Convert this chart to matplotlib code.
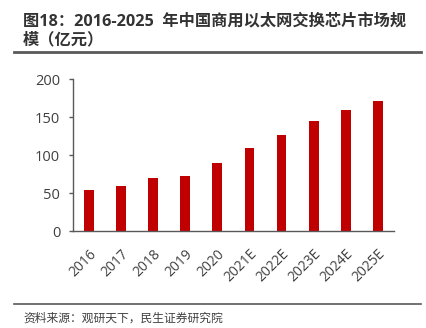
import numpy as np
import matplotlib.pyplot as plt
import matplotlib.transforms as mtransforms
from matplotlib.lines import Line2D

plt.rcParams['font.family'] = ['Open Sans', 'Noto Sans CJK SC', 'DejaVu Sans']

# data
years = ['2016', '2017', '2018', '2019', '2020',
         '2021E', '2022E', '2023E', '2024E', '2025E']
market = [54, 60, 70, 72, 90, 109, 127, 145, 159, 172]

title = '图18：2016-2025  年中国商用以太网交换芯片市场规\n模（亿元）'
source = '资料来源：观研天下，民生证券研究院'

gray = '#404040'

fig = plt.figure(figsize=(4.26, 3.28), dpi=100)
ax = fig.add_axes([0.1707, 0.2957, 0.925 - 0.1707, 0.758 - 0.2957])

x = np.arange(len(years))
ax.bar(x, market, width=0.3, color='#C00000')

ax.set_xlim(-0.5, len(years) - 0.5)
ax.set_ylim(0, 200)
ax.set_yticks([0, 50, 100, 150, 200])
ax.set_xticks(x)
ax.set_xticklabels(years, rotation=45, ha='right', rotation_mode='anchor')
# nudge the rotated labels a little to the left
shift = mtransforms.ScaledTranslation(-3 / 100, 0, fig.dpi_scale_trans)
for lab in ax.get_xticklabels():
    lab.set_transform(lab.get_transform() + shift)

for s in ['top', 'right']:
    ax.spines[s].set_visible(False)
for s in ['left', 'bottom']:
    ax.spines[s].set_color('#595959')
    ax.spines[s].set_linewidth(1.0)
ax.tick_params(axis='y', colors='#595959', labelcolor=gray, labelsize=10.5,
               length=3, width=1, pad=6)
ax.tick_params(axis='x', length=0, labelcolor=gray, labelsize=10, pad=11)

fig.text(23 / 426, 1 - 31 / 328, title, fontsize=11.7, fontweight='bold',
         color='#333333', va='center', ha='left', linespacing=1.3)
fig.add_artist(Line2D([14 / 426, 421 / 426], [1 - 52 / 328] * 2,
                      color='#595959', lw=2))
fig.add_artist(Line2D([14 / 426, 421 / 426], [1 - 304 / 328] * 2,
                      color='#595959', lw=1.2))
fig.text(23 / 426, 1 - 318 / 328, source, fontsize=8.5, color=gray,
         va='center', ha='left')

fig.savefig('out.png', dpi=100)
